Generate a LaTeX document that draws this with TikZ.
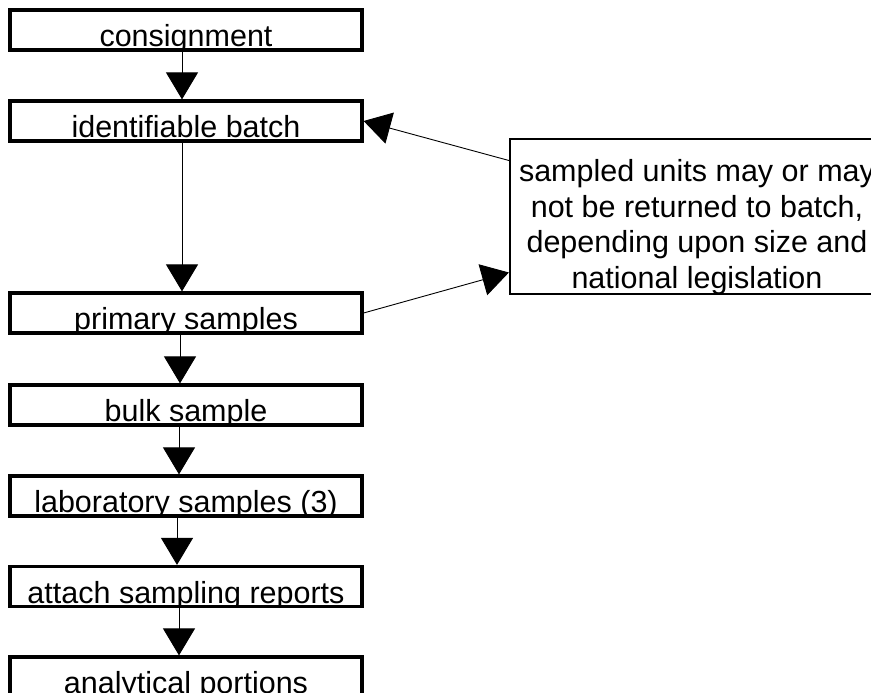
\documentclass[tikz,border=0pt]{standalone}
\usepackage{fontspec}
\setmainfont{Liberation Sans}
\usetikzlibrary{arrows.meta}

\begin{document}
\begin{tikzpicture}[x=1pt,y=-1pt,
    box/.style={draw,line width=3.2pt,fill=white,minimum width=352pt,minimum height=40pt,inner sep=0pt,
      path picture={\node[anchor=base,inner sep=0pt,font=\fontsize{30.5}{35.5}\selectfont]
        at ([yshift=3.5pt]path picture bounding box.south) {#1};}},
    note/.style={draw,line width=2.2pt,fill=white,minimum width=374pt,minimum height=155pt,inner sep=0pt,
      path picture={\node[anchor=base,inner sep=0pt,align=center,font=\fontsize{30.5}{35.5}\selectfont]
        at ([yshift=6pt]path picture bounding box.south) {#1};}}]

        \useasboundingbox (0,0) rectangle (871,693);

        \node[box={consignment}]             (1) at (186,30)    {};
        \node[box={identifiable batch}]      (2) at (186,121)   {};
        \node[box={primary samples}]         (3) at (186,313)   {};
        \node[box={bulk sample}]             (4) at (186,405)   {};
        \node[box={laboratory samples (3)}]  (5) at (186,496)   {};
        \node[box={attach sampling reports}] (6) at (186,586.5) {};
        \node[box={analytical portions}]     (7) at (186,677)   {};
        \node[note={sampled units may or may\\not be returned to batch,\\depending upon size and\\national legislation}]
                                             (8) at (697,216.5) {};

        \begin{scope}[every edge/.style={draw,line width=0.9pt,-{Triangle[length=27pt,width=32pt]}}]
          \path ([xshift=-4pt]1.south) edge ([xshift=-4pt]2.north);
          \path ([xshift=-4pt]2.south) edge ([xshift=-4pt]3.north);
          \path ([xshift=-6pt]3.south) edge ([xshift=-6pt]4.north);
          \path ([xshift=-7pt]4.south) edge ([xshift=-7pt]5.north);
          \path ([xshift=-9pt]5.south) edge ([xshift=-9pt]6.north);
          \path ([xshift=-7pt]6.south) edge ([xshift=-7pt]7.north);
          \path ([yshift=56pt]8.west)  edge (2.east);
          \path (3.east) edge ([yshift=-56pt]8.west);
        \end{scope}

      \end{tikzpicture}
\end{document}
